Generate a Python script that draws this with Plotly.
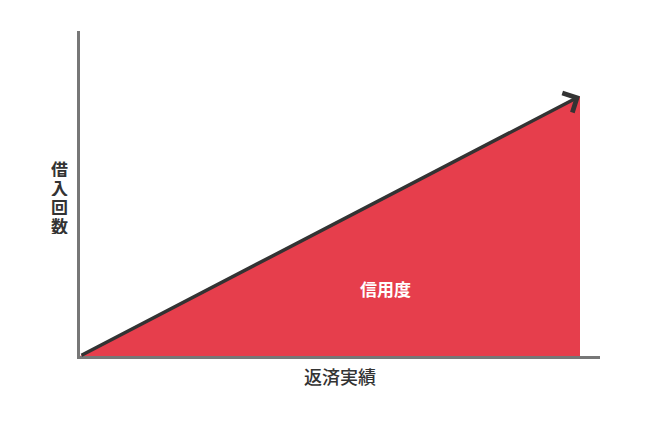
import plotly.graph_objects as go

# conceptual chart: repayment record vs credit
repayment = [0, 10, 10]
credit = [0, 10, 0]
line_x = [0, 10]
line_y = [0, 10]
area_label = "信用度"
x_title = "返済実績"
y_title = "借入回数"

font_jp = "Noto Sans CJK JP"

fig = go.Figure()

# red triangle area
fig.add_trace(go.Scatter(x=repayment, y=credit, fill="toself", mode="none",
                         fillcolor="#e63e4c", hoverinfo="skip"))

# dark diagonal line with arrow head
fig.add_annotation(x=line_x[1], y=line_y[1], ax=line_x[0], ay=line_y[0],
                   xref="x", yref="y", axref="x", ayref="y",
                   showarrow=True, arrowhead=4, arrowsize=1.2, arrowwidth=3.5,
                   arrowcolor="#333333", standoff=0, text="")

fig.add_annotation(x=6.1, y=2.6, xref="x", yref="y", text=area_label,
                   showarrow=False,
                   font=dict(family=font_jp, size=17, color="white", weight="bold"))

# vertical y label, stacked characters (tight pitch like the original)
pitch = 19 / 324
for i, ch in enumerate(y_title):
    fig.add_annotation(x=-0.0385, y=0.58 - i * pitch, xref="paper", yref="paper",
                       xanchor="center", yanchor="middle", text=ch, showarrow=False,
                       height=18, borderpad=0, valign="middle",
                       font=dict(family=font_jp, size=17, color="#333333", weight=600))

fig.update_layout(
    width=650, height=424,
    margin=dict(l=72, r=58, t=23, b=76),
    paper_bgcolor="white", plot_bgcolor="white",
    showlegend=False,
    font=dict(family=font_jp, color="#333333"),
    xaxis=dict(range=[0, 10.4], showline=True, linecolor="#777777", linewidth=3,
               showgrid=False, zeroline=False, showticklabels=False, ticks="",
               title=dict(text=x_title, standoff=14,
                          font=dict(family=font_jp, size=18, color="#333333", weight=500))),
    yaxis=dict(range=[0, 12.51], showline=True, linecolor="#777777", linewidth=3,
               showgrid=False, zeroline=False, showticklabels=False, ticks=""),
)

fig.write_html("out.html")
